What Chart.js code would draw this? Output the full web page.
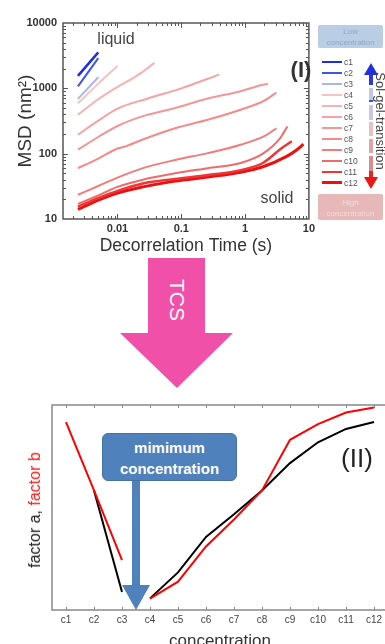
<!DOCTYPE html>
<html>
<head>
<meta charset="utf-8">
<script src="https://cdn.jsdelivr.net/npm/chart.js@4.4.1/dist/chart.umd.min.js"></script>
<style>
  html, body { margin: 0; padding: 0; background: #fff; }
  body { width: 385px; height: 644px; overflow: hidden; position: relative; font-family: "Liberation Sans", Arial, sans-serif; }
  canvas { position: absolute; left: 0; }
  #msdChart { top: 0; }
  #factorChart { top: 395px; }
  .txt { position: absolute; transform: translate(-50%, -50%); white-space: nowrap; color: #444; }
  .box { position: absolute; text-align: center; font-size: 8px; line-height: 11px; }
  .leg { position: absolute; left: 322px; height: 11px; font-size: 8.5px; color: #555; line-height: 11px; }
  .leg .sw { display: inline-block; width: 20px; vertical-align: middle; margin-right: 2px; margin-top: -2px; }
  .seg { position: absolute; left: 369px; width: 4px; }
</style>
</head>
<body>
<canvas id="msdChart" width="318" height="258"></canvas>
<canvas id="factorChart" width="392" height="265"></canvas>

<div class="txt" style="left:116px; top:39px; font-size:16px;">liquid</div>
<div class="txt" style="left:277px; top:198px; font-size:16px;">solid</div>
<div class="txt" style="left:301px; top:70px; font-size:22px; font-weight:bold; color:#333;">(I)</div>

<div class="box" style="left:318px; top:25px; width:65px; height:23px; background:#b9cde4; color:#8ea8c8; border-radius:2px; padding-top:1px; box-sizing:border-box;">Low<br>concentration</div>
<div class="box" style="left:318px; top:194px; width:65px; height:26px; background:#e6b9b8; color:#f3d9d9; border-radius:2px; padding-top:3px; box-sizing:border-box;">High<br>concentration</div>
<div id="legend"></div>

<!-- sol-gel arrow -->
<div style="position:absolute; left:364px; top:63px; width:14px; height:12px; background:#2030e0; clip-path:polygon(50% 0,100% 100%,0 100%);"></div>
<div class="seg" style="top:75px; height:10px; background:#2a3ae0;"></div>
<div class="seg" style="top:88px; height:13px; background:#c4c8e6;"></div>
<div class="seg" style="top:100px; height:2px; background:#4050e0;"></div>
<div class="seg" style="top:105px; height:15px; background:#c8c8e4;"></div>
<div class="seg" style="top:122px; height:14px; background:#e8c0c0;"></div>
<div class="seg" style="top:139px; height:14px; background:#dfa5a5;"></div>
<div class="seg" style="top:156px; height:15px; background:#d88c8c;"></div>
<div class="seg" style="top:171px; height:7px; background:#ee2020;"></div>
<div style="position:absolute; left:364px; top:177px; width:14px; height:12px; background:#ee1515; clip-path:polygon(0 0,100% 0,50% 100%);"></div>
<div class="txt" style="left:380px; top:121px; font-size:13px; transform:translate(-50%,-50%) rotate(90deg);">Sol-gel-transition</div>

<!-- TCS arrow -->
<div style="position:absolute; left:120px; top:258px; width:113px; height:130px; background:#f050a8; clip-path:polygon(28px 0,85px 0,85px 75px,113px 75px,57px 130px,0 75px,28px 75px);"></div>
<div class="txt" style="left:177px; top:300px; font-size:21px; color:#fff; transform:translate(-50%,-50%) rotate(90deg);">TCS</div>

<!-- bottom annotations -->
<div class="txt" style="left:35px; top:510px; font-size:16px; color:#222; transform:translate(-50%,-50%) rotate(-90deg);">factor a, <span style="color:#ff1a1a;">factor b</span></div>
<div class="txt" style="left:357px; top:458px; font-size:26px; color:#222;">(II)</div>
<div style="position:absolute; left:132px; top:480px; width:8px; height:107px; background:#4f81bd;"></div>
<div style="position:absolute; left:122px; top:585px; width:28px; height:25px; background:#4f81bd; clip-path:polygon(0 0,100% 0,50% 100%);"></div>
<div style="position:absolute; left:102px; top:433px; width:135px; height:48px; background:#4f81bd; border:1px solid #44739f; border-radius:6px; box-sizing:border-box; color:#fff; font-weight:bold; font-size:15px; line-height:21px; text-align:center; padding-top:3px;">mimimum<br>concentration</div>

<script>
// --- panel (I): MSD vs decorrelation time, [time s, MSD nm^2]
const c1 = [[0.0024, 1550], [0.005, 3550]];
const c2 = [[0.0024, 1070], [0.005, 2900]];
const c3 = [[0.0024, 690], [0.005, 1480]];
const c4 = [[0.0024, 590], [0.005, 1180], [0.01, 2200]];
const c5 = [[0.0024, 395], [0.005, 680], [0.01, 1050], [0.02, 1550], [0.038, 2450]];
const c6 = [[0.0024, 195], [0.005, 320], [0.01, 490], [0.03, 700], [0.1, 1000], [0.39, 1620]];
const c7 = [[0.0024, 115], [0.005, 180], [0.01, 265], [0.025, 375], [0.08, 500], [0.26, 700], [0.85, 900], [1.5, 1070], [2.3, 1180]];
const c8 = [[0.0024, 60], [0.005, 84], [0.01, 120], [0.013, 128], [0.025, 165], [0.08, 245], [0.26, 330], [0.85, 470], [2, 650], [3.1, 860]];
const c9 = [[0.0024, 23.5], [0.005, 32], [0.01, 43], [0.025, 60], [0.08, 80], [0.26, 102], [0.85, 137], [2, 185], [3.1, 245]];
const c10 = [[0.0024, 17], [0.005, 23], [0.01, 31], [0.025, 40], [0.08, 50], [0.26, 60], [0.85, 72], [1.9, 100], [3.5, 170], [4.6, 260]];
const c11 = [[0.0024, 15.5], [0.005, 21], [0.01, 27], [0.025, 35], [0.08, 41], [0.26, 47], [0.85, 56], [1.9, 72], [3.6, 118], [5.4, 155]];
const c12 = [[0.0024, 14], [0.005, 19.5], [0.01, 25], [0.025, 31], [0.08, 38], [0.26, 44], [0.85, 52], [1.9, 63], [4.4, 90], [6.5, 115], [8.2, 140]];

const seriesNames = ['c1', 'c2', 'c3', 'c4', 'c5', 'c6', 'c7', 'c8', 'c9', 'c10', 'c11', 'c12'];
const seriesColors = ['#1f2fe0', '#4155e8', '#a9b4f0', '#f9c2c2', '#f8b2b2', '#f6a2a2', '#f59696', '#f48a8a', '#f27c7c', '#f06a6a', '#ef3535', '#ee1010'];
const seriesWidths = [2.5, 2, 2, 2, 2, 2, 2, 2, 2, 2, 2.5, 3];
const msdSeries = [c1, c2, c3, c4, c5, c6, c7, c8, c9, c10, c11, c12];

const timeTickLabels = [0.01, 0.1, 1, 10];
const msdTickLabels = [10, 100, 1000, 10000];

// --- panel (II): factors vs concentration
const concentrations = ['c1', 'c2', 'c3', 'c4', 'c5', 'c6', 'c7', 'c8', 'c9', 'c10', 'c11', 'c12'];
const factorALow = [null, 4.0, 1.03, null, null, null, null, null, null, null, null, null];
const factorAHigh = [null, null, null, 0.84, 1.6, 2.64, 3.3, 4.0, 4.8, 5.41, 5.8, 6.0];
const factorBLow = [6.0, 4.0, 1.96, null, null, null, null, null, null, null, null, null];
const factorBHigh = [null, null, null, 0.83, 1.33, 2.36, 3.15, 4.0, 5.48, 5.94, 6.28, 6.43];

const FONT = '"Liberation Sans", Arial, sans-serif';


function isDecade(v) {
    const l = Math.log10(v);
    return Math.abs(l - Math.round(l)) < 1e-6;
}


function logTicks(min, max) {
    const ticks = [];
    for (let e = Math.floor(Math.log10(min)); e <= Math.ceil(Math.log10(max)); e++) {
        for (let d = 1; d < 10; d++) {
            const v = +(d * Math.pow(10, e)).toPrecision(6);
            if (v >= min && v <= max) ticks.push({ value: v });
        }
    }
    return ticks;
}


function labelFor(v, list) {
    return list.some(l => Math.abs(l - v) / l < 1e-6) ? String(+v.toPrecision(6)) : '';
}


function frameTicks(cfg) {  // box frame with inner tick marks on all four sides
    return {
        id: 'frameTicks',
        afterDatasetsDraw(chart) {
            const { ctx, chartArea: a, scales } = chart;
            ctx.save();
            ctx.strokeStyle = cfg.color;
            ctx.lineWidth = 1;
            ctx.beginPath();
            scales.x.ticks.forEach((t, i) => {
                const p = Math.round(scales.x.getPixelForTick(i)) + 0.5;
                if (p < a.left + 2 || p > a.right - 2) return;
                const len = (!cfg.log || isDecade(t.value)) ? cfg.major : cfg.minor;
                ctx.moveTo(p, a.bottom); ctx.lineTo(p, a.bottom - len);
                ctx.moveTo(p, a.top); ctx.lineTo(p, a.top + len);
            });
            scales.y.ticks.forEach((t, i) => {
                const p = Math.round(scales.y.getPixelForTick(i)) + 0.5;
                if (p < a.top + 2 || p > a.bottom - 2) return;
                const len = (!cfg.log || isDecade(t.value)) ? cfg.major : cfg.minor;
                ctx.moveTo(a.left, p); ctx.lineTo(a.left + len, p);
                ctx.moveTo(a.right, p); ctx.lineTo(a.right - len, p);
            });
            ctx.stroke();
            ctx.lineWidth = cfg.width;
            ctx.strokeRect(a.left, a.top, a.right - a.left, a.bottom - a.top);
            ctx.restore();
        }
    };
}


function drawMsdChart() {
    const ctx = document.getElementById('msdChart').getContext('2d');
    new Chart(ctx, {
        type: 'line',
        data: {
            datasets: msdSeries.map((pts, i) => ({
                label: seriesNames[i],
                data: pts.map(([x, y]) => ({ x, y })),
                borderColor: seriesColors[i],
                borderWidth: seriesWidths[i],
                pointRadius: 0,
                fill: false,
                cubicInterpolationMode: 'monotone'
            }))
        },
        options: {
            responsive: false,
            animation: false,
            layout: { padding: { top: 23, right: 6, left: 0, bottom: 0 } },
            plugins: { legend: { display: false }, tooltip: { enabled: false } },
            scales: {
                x: {
                    type: 'logarithmic', min: 0.0014, max: 10,
                    afterBuildTicks: s => { s.ticks = logTicks(s.min, s.max); },
                    afterFit: s => { s.height = 39; },
                    grid: { display: false, drawTicks: false },
                    border: { display: false },
                    ticks: {
                        autoSkip: false, maxRotation: 0, padding: 3, color: '#333',
                        font: { family: FONT, size: 11, weight: 'bold' },
                        callback: v => labelFor(v, timeTickLabels)
                    },
                    title: {
                        display: true, text: 'Decorrelation Time (s)', color: '#333',
                        font: { family: FONT, size: 17.5 }, padding: { top: 0, bottom: 1 }
                    }
                },
                y: {
                    type: 'logarithmic', min: 10, max: 10000,
                    afterBuildTicks: s => { s.ticks = logTicks(s.min, s.max); },
                    afterFit: s => { s.width = 63; },
                    grid: { display: false, drawTicks: false },
                    border: { display: false },
                    ticks: {
                        autoSkip: false, padding: 6, color: '#333',
                        font: { family: FONT, size: 11, weight: 'bold' },
                        callback: v => labelFor(v, msdTickLabels)
                    },
                    title: {
                        display: true, text: 'MSD (nm²)', color: '#333',
                        font: { family: FONT, size: 19 }, padding: { top: 14, bottom: 0 }
                    }
                }
            }
        },
        plugins: [frameTicks({ color: '#555', width: 1.5, major: 5, minor: 3, log: true })]
    });
}


function drawFactorChart() {
    const ctx = document.getElementById('factorChart').getContext('2d');
    const line = (data, color) => ({
        data, borderColor: color, borderWidth: 2, pointRadius: 0, fill: false, spanGaps: false, tension: 0
    });
    new Chart(ctx, {
        type: 'line',
        data: {
            labels: concentrations,
            datasets: [
                line(factorBLow, '#ff0000'),
                line(factorBHigh, '#ff0000'),
                line(factorALow, '#000000'),
                line(factorAHigh, '#000000')
            ]
        },
        options: {
            responsive: false,
            animation: false,
            layout: { padding: { top: 10, right: 4, left: 0, bottom: 0 } },
            plugins: { legend: { display: false }, tooltip: { enabled: false } },
            scales: {
                x: {
                    type: 'category', offset: true,
                    afterFit: s => { s.height = 50; },
                    grid: { display: false, drawTicks: false },
                    border: { display: false },
                    ticks: { autoSkip: false, maxRotation: 0, padding: 4, color: '#444', font: { family: FONT, size: 10 } },
                    title: {
                        display: true, text: 'concentration', color: '#333',
                        font: { family: FONT, size: 17 }, padding: { top: 0, bottom: 8 }
                    }
                },
                y: {
                    min: 0.5, max: 6.5,
                    afterBuildTicks: s => { s.ticks = s.ticks.filter(t => Number.isInteger(t.value)); },
                    afterFit: s => { s.width = 52; },
                    grid: { display: false, drawTicks: false },
                    border: { display: false },
                    ticks: { display: false, stepSize: 1 }
                }
            }
        },
        plugins: [frameTicks({ color: '#888', width: 1.5, major: 3, minor: 3, log: false })]
    });
}


function renderLegend() {
    const legend = document.getElementById('legend');
    seriesNames.forEach((name, i) => {
        const row = document.createElement('div');
        row.className = 'leg';
        row.style.top = (57 + 11 * i) + 'px';
        row.innerHTML = `<span class="sw" style="background:${seriesColors[i]};height:${seriesWidths[i]}px"></span>${name}`;
        legend.appendChild(row);
    });
}


renderLegend();
drawMsdChart();
drawFactorChart();
</script>
</body>
</html>
